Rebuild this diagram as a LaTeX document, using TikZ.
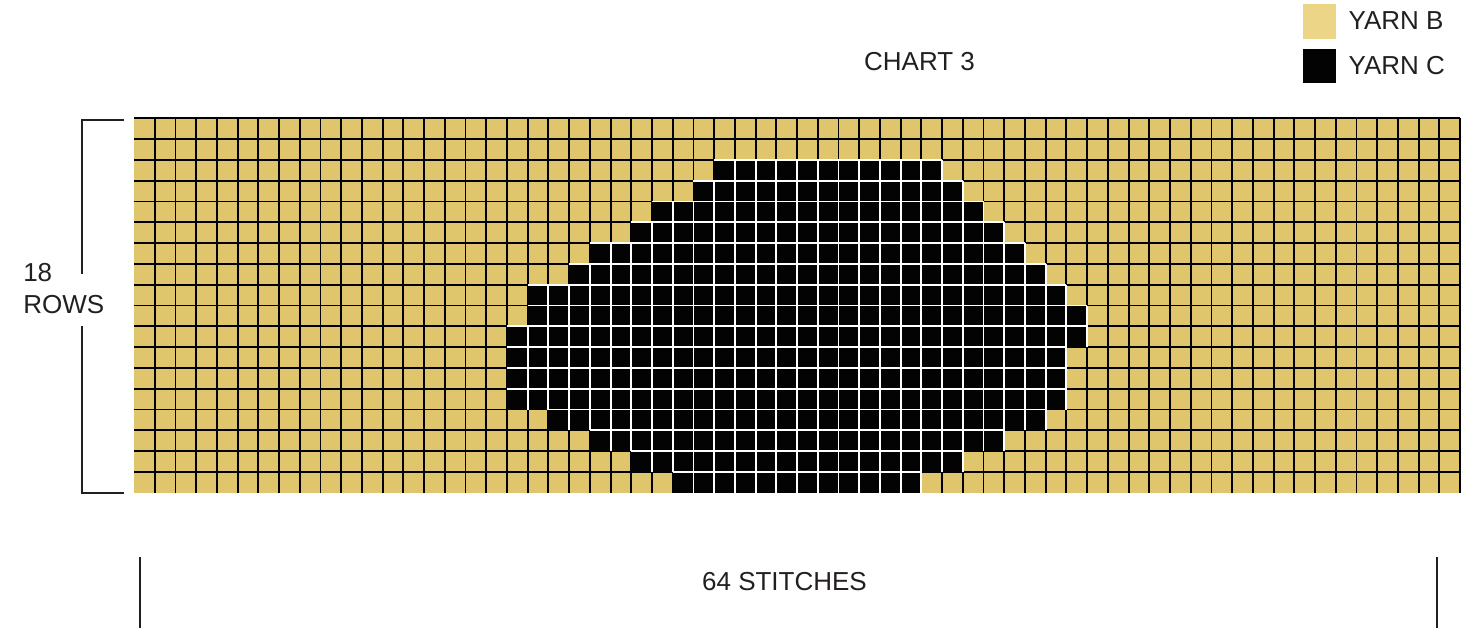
\documentclass[tikz,border=0pt]{standalone}
\usepackage{fontspec}
\setmainfont{Liberation Sans}
\definecolor{yarnB}{HTML}{DFC66C}
\definecolor{yarnBkey}{HTML}{EDD587}
\definecolor{yarnC}{HTML}{030303}
\definecolor{ink}{HTML}{231F20}

\begin{document}
\begin{tikzpicture}[x=0.75pt, y=-0.75pt,
    lbl/.style={font=\fontsize{19.5}{24}\selectfont, text=ink, inner sep=0pt},
    gridline/.style={line width=1.4pt, black},
    cellline/.style={line width=1.4pt, white},
    dimline/.style={line width=1.5pt, ink}]
    \useasboundingbox (0,0) rectangle (1484,628);

    % --- 1. Title and key ---
    \node[lbl, anchor=base] (title) at (919.5,70) {CHART 3};
    \fill[yarnBkey] (1302.7,4) rectangle (1335.7,38.7);
    \fill[yarnC] (1302.7,49) rectangle (1335.7,83.3);
    \node[lbl, anchor=base west] (keyB) at (1348.3,29.3) {YARN B};
    \node[lbl, anchor=base west] (keyC) at (1348.3,74) {YARN C};

    % --- 2. Chart: 64 stitches x 18 rows ---
    \begin{scope}[xshift=100.5pt, yshift=-88.725pt, x=15.54pt, y=-15.6pt]
        \fill[yarnB] (0,0) rectangle (64,18);
        \foreach \r in {0,...,17} \draw[gridline] (0,\r) -- (64,\r);
        \foreach \c in {1,...,64} \draw[gridline] (\c,0) -- (\c,18);
        % yarn C stitches, row/first/last
        \foreach \r/\a/\b in {2/28/38, 3/27/39, 4/25/40, 5/24/41, 6/22/42,
                              7/21/43, 8/19/44, 9/19/45, 10/18/45, 11/18/44,
                              12/18/44, 13/18/44, 14/20/43, 15/22/41,
                              16/24/39, 17/26/37} {
            \fill[yarnC] (\a,\r) rectangle (\b+1,\r+1);
            \draw[cellline] (\a,\r) -- (\b+1,\r);
            \foreach \c in {\a,...,\b} \draw[cellline] (\c+1,\r) -- (\c+1,\r+1);
        }
    \end{scope}

    % --- 3. Dimensions ---
    \node[lbl, anchor=base west] (rowsnum) at (23,281) {18};
    \node[lbl, anchor=base west] (rowsword) at (23,313) {ROWS};
    \draw[dimline] (124,120) -- (82,120) -- (82,274);
    \draw[dimline] (82,326) -- (82,492.7) -- (124,492.7);

    \node[lbl, anchor=base] (stitches) at (784.5,590) {64 STITCHES};
    \draw[dimline] (140,557) -- (140,628);
    \draw[dimline] (1437,557) -- (1437,628);
\end{tikzpicture}
\end{document}
